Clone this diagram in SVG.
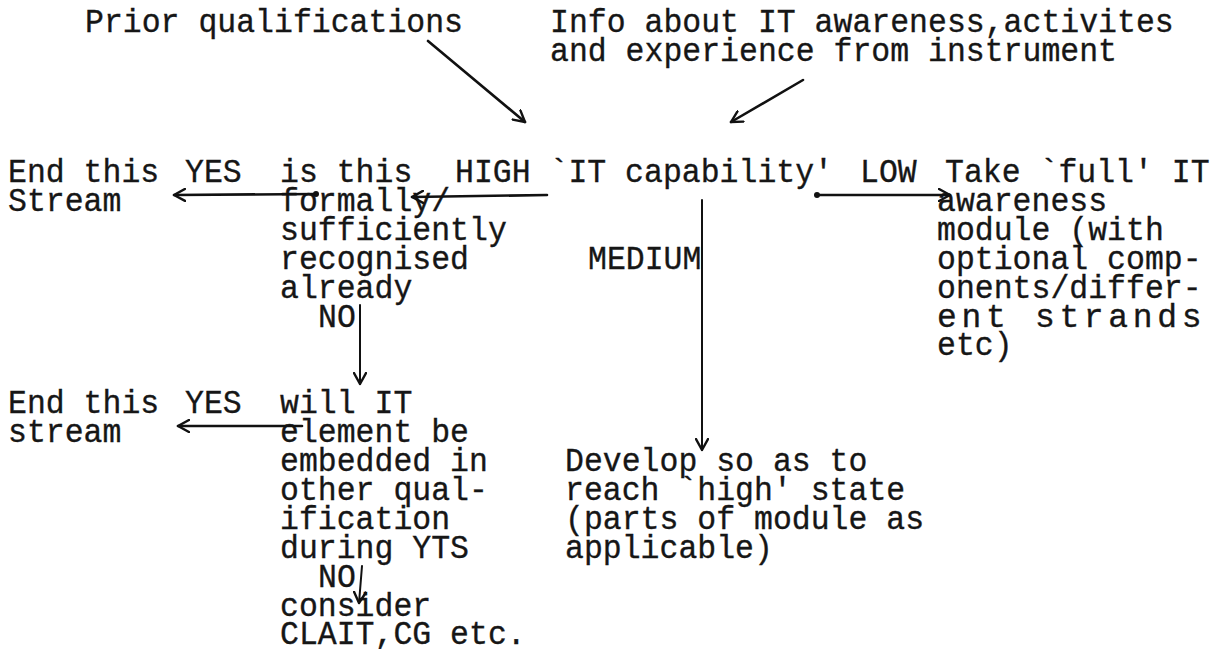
<svg xmlns="http://www.w3.org/2000/svg" width="1225" height="649" viewBox="0 0 1225 649">
  <style>
    text { font-family: "Liberation Mono", "Courier New", monospace; font-size: 33px; fill: #161616; stroke: #161616; stroke-width: 0.35; }
    .wire { stroke: #111; stroke-width: 2.6; fill: none; stroke-linecap: round; }
    .thin { stroke: #111; stroke-width: 2; fill: none; stroke-linecap: round; }
    .dot { fill: #111; }
  </style>
  <defs>
    <marker id="head" viewBox="0 0 14 14" refX="12" refY="7" markerWidth="14" markerHeight="14" markerUnits="userSpaceOnUse" orient="auto">
      <path d="M1,1 L12,7 L1,13" fill="none" stroke="#111" stroke-width="2.4" stroke-linecap="round" stroke-linejoin="round"/>
    </marker>
  </defs>
  <rect width="1225" height="649" fill="#ffffff"/>

  <!-- inputs -->
  <g id="prior">
    <text x="85" y="32" textLength="378" lengthAdjust="spacingAndGlyphs">Prior qualifications</text>
  </g>
  <g id="info">
    <text x="550" y="32" textLength="623.7" lengthAdjust="spacingAndGlyphs">Info about IT awareness,activites</text>
    <text x="550" y="61" textLength="567" lengthAdjust="spacingAndGlyphs">and experience from instrument</text>
  </g>

  <!-- central decision -->
  <g id="capability">
    <text x="455" y="182" textLength="378" lengthAdjust="spacingAndGlyphs">HIGH `IT capability'</text>
    <text x="860" y="182" textLength="56.7" lengthAdjust="spacingAndGlyphs">LOW</text>
    <text x="588" y="268.7" textLength="113.4" lengthAdjust="spacingAndGlyphs">MEDIUM</text>
  </g>

  <!-- high branch -->
  <g id="recognised">
    <text x="280" y="182" textLength="132.3" lengthAdjust="spacingAndGlyphs">is this</text>
    <text x="280" y="210.9" textLength="170.1" lengthAdjust="spacingAndGlyphs">formally/</text>
    <text x="280" y="239.8" textLength="226.8" lengthAdjust="spacingAndGlyphs">sufficiently</text>
    <text x="280" y="268.7" textLength="189" lengthAdjust="spacingAndGlyphs">recognised</text>
    <text x="280" y="297.6" textLength="132.3" lengthAdjust="spacingAndGlyphs">already</text>
    <text x="318" y="326.5" textLength="37.8" lengthAdjust="spacingAndGlyphs">NO</text>
  </g>
  <g id="end1">
    <text x="8" y="182" textLength="151.2" lengthAdjust="spacingAndGlyphs">End this</text>
    <text x="8" y="210.9" textLength="113.4" lengthAdjust="spacingAndGlyphs">Stream</text>
    <text x="185" y="182" textLength="56.7" lengthAdjust="spacingAndGlyphs">YES</text>
  </g>
  <g id="embedded">
    <text x="280" y="413.2" textLength="132.3" lengthAdjust="spacingAndGlyphs">will IT</text>
    <text x="280" y="442.1" textLength="189" lengthAdjust="spacingAndGlyphs">element be</text>
    <text x="280" y="471" textLength="207.9" lengthAdjust="spacingAndGlyphs">embedded in</text>
    <text x="280" y="499.9" textLength="207.9" lengthAdjust="spacingAndGlyphs">other qual-</text>
    <text x="280" y="528.8" textLength="170.1" lengthAdjust="spacingAndGlyphs">ification</text>
    <text x="280" y="557.7" textLength="189" lengthAdjust="spacingAndGlyphs">during YTS</text>
    <text x="318" y="586.6" textLength="37.8" lengthAdjust="spacingAndGlyphs">NO</text>
  </g>
  <g id="end2">
    <text x="8" y="413.2" textLength="151.2" lengthAdjust="spacingAndGlyphs">End this</text>
    <text x="8" y="442.1" textLength="113.4" lengthAdjust="spacingAndGlyphs">stream</text>
    <text x="185" y="413.2" textLength="56.7" lengthAdjust="spacingAndGlyphs">YES</text>
  </g>
  <g id="consider">
    <text x="280" y="615.5" textLength="151.2" lengthAdjust="spacingAndGlyphs">consider</text>
    <text x="280" y="644" textLength="245.7" lengthAdjust="spacingAndGlyphs">CLAIT,CG etc.</text>
  </g>

  <!-- medium branch -->
  <g id="develop">
    <text x="565" y="471" textLength="302.4" lengthAdjust="spacingAndGlyphs">Develop so as to</text>
    <text x="565" y="499.9" textLength="340.2" lengthAdjust="spacingAndGlyphs">reach `high' state</text>
    <text x="565" y="528.8" textLength="359.1" lengthAdjust="spacingAndGlyphs">(parts of module as</text>
    <text x="565" y="557.7" textLength="207.9" lengthAdjust="spacingAndGlyphs">applicable)</text>
  </g>

  <!-- low branch -->
  <g id="module">
    <text x="945" y="182" textLength="264.6" lengthAdjust="spacingAndGlyphs">Take `full' IT</text>
    <text x="937" y="210.9" textLength="170.1" lengthAdjust="spacingAndGlyphs">awareness</text>
    <text x="937" y="239.8" textLength="226.8" lengthAdjust="spacingAndGlyphs">module (with</text>
    <text x="937" y="268.7" textLength="264.6" lengthAdjust="spacingAndGlyphs">optional comp-</text>
    <text x="937" y="297.6" textLength="264.6" lengthAdjust="spacingAndGlyphs">onents/differ-</text>
    <text x="937" y="326.5" textLength="264.6" lengthAdjust="spacing">ent strands</text>
    <text x="937" y="355.4" textLength="75.6" lengthAdjust="spacingAndGlyphs">etc)</text>
  </g>

  <g id="connectors">
    <line class="wire" x1="428" y1="41" x2="525" y2="122" marker-end="url(#head)"/>
    <line class="wire" x1="803" y1="80" x2="731" y2="122" marker-end="url(#head)"/>
    <line class="wire" x1="547" y1="195" x2="412" y2="197" marker-end="url(#head)"/>
    <line class="wire" x1="316" y1="194" x2="174" y2="195" marker-end="url(#head)"/>
    <circle class="dot" cx="316" cy="194" r="3"/>
    <line class="wire" x1="817" y1="195" x2="950" y2="195" marker-end="url(#head)"/>
    <circle class="dot" cx="817" cy="195" r="3"/>
    <line class="thin" x1="702" y1="200" x2="702" y2="450" marker-end="url(#head)"/>
    <line class="thin" x1="360" y1="305" x2="360" y2="384" marker-end="url(#head)"/>
    <line class="wire" x1="302" y1="426" x2="178" y2="426" marker-end="url(#head)"/>
    <line class="thin" x1="362" y1="566" x2="359" y2="603" marker-end="url(#head)"/>
  </g>
</svg>
